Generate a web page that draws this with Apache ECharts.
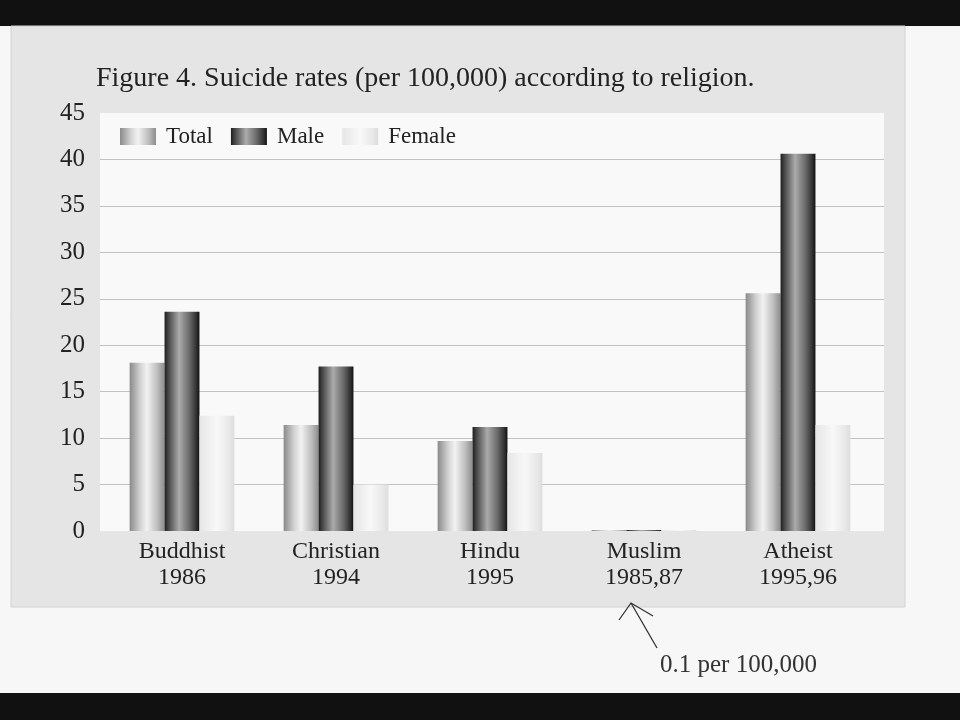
<!DOCTYPE html>
<html>
<head>
<meta charset="utf-8">
<title>Suicide rates according to religion</title>
<script src="https://cdn.jsdelivr.net/npm/echarts@6/dist/echarts.min.js"></script>
<style>
  html, body { margin: 0; padding: 0; background: #f7f7f7; }
  #chart { width: 960px; height: 720px; }
</style>
</head>
<body>
<div id="chart"></div>
<script>
// categories (religion / year of data)
var religions = ['Buddhist', 'Christian', 'Hindu', 'Muslim', 'Atheist'];
var years = ['1986', '1994', '1995', '1985,87', '1995,96'];

// rates per 100,000
var totalRates = [18.1, 11.4, 9.7, 0.1, 25.6];
var maleRates = [23.6, 17.7, 11.2, 0.1, 40.6];
var femaleRates = [12.4, 5.0, 8.4, 0.1, 11.4];

var yTicks = { min: 0, max: 45, interval: 5 };

var serif = '"Liberation Serif", "DejaVu Serif", serif';

// cylinder-like shading for each series
function shade(stops) {
    return new echarts.graphic.LinearGradient(0, 0, 1, 0, stops.map(function(s) {
        return { offset: s[0], color: s[1] };
    }));
}
var totalColor = shade([[0, '#8a8a8a'], [0.3, '#d2d2d2'], [0.5, '#f2f2f2'], [0.8, '#bcbcbc'], [1, '#8c8c8c']]);
var maleColor = shade([[0, '#1e1e1e'], [0.12, '#4a4a4a'], [0.42, '#ababab'], [0.72, '#686868'], [0.92, '#2e2e2e'], [1, '#111111']]);
var femaleColor = shade([[0, '#e6e6e6'], [0.5, '#f8f8f8'], [0.85, '#e8e8e8'], [1, '#dddddd']]);

var categories = religions.map(function(r, i) { return r + '\n' + years[i]; });

var chart = echarts.init(document.getElementById('chart'));

var option = {
    backgroundColor: '#f7f7f7',
    animation: false,
    title: {
        text: 'Figure 4. Suicide rates (per 100,000) according to religion.',
        left: 96,
        top: 65,
        padding: 0,
        textStyle: { fontFamily: serif, fontSize: 28, fontWeight: 'normal', color: '#222' }
    },
    legend: {
        left: 120,
        top: 125,
        padding: 0,
        itemWidth: 36,
        itemHeight: 17,
        itemGap: 18,
        icon: 'rect',
        textStyle: { fontFamily: serif, fontSize: 23, color: '#222', padding: [0, 0, 0, 5] },
        data: ['Total', 'Male', 'Female']
    },
    // grid 0: white plot panel with the value scale, grid 1: the bars
    grid: [
        { left: 100, right: 76, top: 113, bottom: 189, show: true, backgroundColor: '#f9f9f9', borderWidth: 0 },
        { left: 105, right: 85, top: 113, bottom: 189 }
    ],
    xAxis: [
        { gridIndex: 0, type: 'category', data: categories, show: false },
        {
            gridIndex: 1,
            type: 'category',
            data: categories,
            axisLine: { show: false },
            axisTick: { show: false },
            axisLabel: { margin: 8, fontFamily: serif, fontSize: 24, lineHeight: 26, color: '#222' }
        }
    ],
    yAxis: [
        {
            gridIndex: 0,
            type: 'value',
            min: yTicks.min,
            max: yTicks.max,
            interval: yTicks.interval,
            axisLine: { show: false },
            axisTick: { show: false },
            axisLabel: { margin: 15, fontFamily: serif, fontSize: 25, color: '#222' },
            splitLine: {
                show: true,
                lineStyle: { color: '#c2c2c2', width: 1 },
                showMinLine: false,
                showMaxLine: false
            }
        },
        {
            gridIndex: 1,
            type: 'value',
            min: yTicks.min,
            max: yTicks.max,
            interval: yTicks.interval,
            show: false,
            splitLine: { show: false }
        }
    ],
    series: [{
        name: 'Total',
        type: 'bar',
        xAxisIndex: 1,
        yAxisIndex: 1,
        barGap: '0%',
        barCategoryGap: '32%',
        itemStyle: { color: totalColor },
        data: totalRates
    }, {
        name: 'Male',
        type: 'bar',
        xAxisIndex: 1,
        yAxisIndex: 1,
        itemStyle: { color: maleColor },
        data: maleRates
    }, {
        name: 'Female',
        type: 'bar',
        xAxisIndex: 1,
        yAxisIndex: 1,
        itemStyle: { color: femaleColor },
        data: femaleRates
    }]
};

chart.setOption(option);

// frame: black bands, grey panel, and the note pointing at the Muslim column
var muslimX = chart.convertToPixel({ xAxisIndex: 1 }, categories[3]);
var tipX = muslimX - 13, tipY = 603;

chart.setOption({
    graphic: [
        { type: 'rect', z: -10, shape: { x: 0, y: 0, width: 960, height: 26 }, style: { fill: '#111' } },
        { type: 'rect', z: -10, shape: { x: 0, y: 693, width: 960, height: 27 }, style: { fill: '#111' } },
        {
            type: 'rect', z: -10,
            shape: { x: 11, y: 26, width: 894, height: 581 },
            style: { fill: '#e5e5e5', stroke: '#d2d2d2', lineWidth: 1 }
        },
        {
            type: 'polyline',
            shape: { points: [[tipX + 26, 648], [tipX, tipY]] },
            style: { stroke: '#333', lineWidth: 1.3, fill: null }
        },
        {
            type: 'polyline',
            shape: { points: [[tipX - 12, tipY + 17], [tipX, tipY], [tipX + 22, tipY + 13]] },
            style: { stroke: '#333', lineWidth: 1.3, fill: null }
        },
        {
            type: 'text',
            x: tipX + 29,
            y: 665,
            style: {
                text: '0.1 per 100,000',
                font: '25px ' + serif,
                fill: '#333',
                verticalAlign: 'middle'
            }
        }
    ]
});
</script>
</body>
</html>
